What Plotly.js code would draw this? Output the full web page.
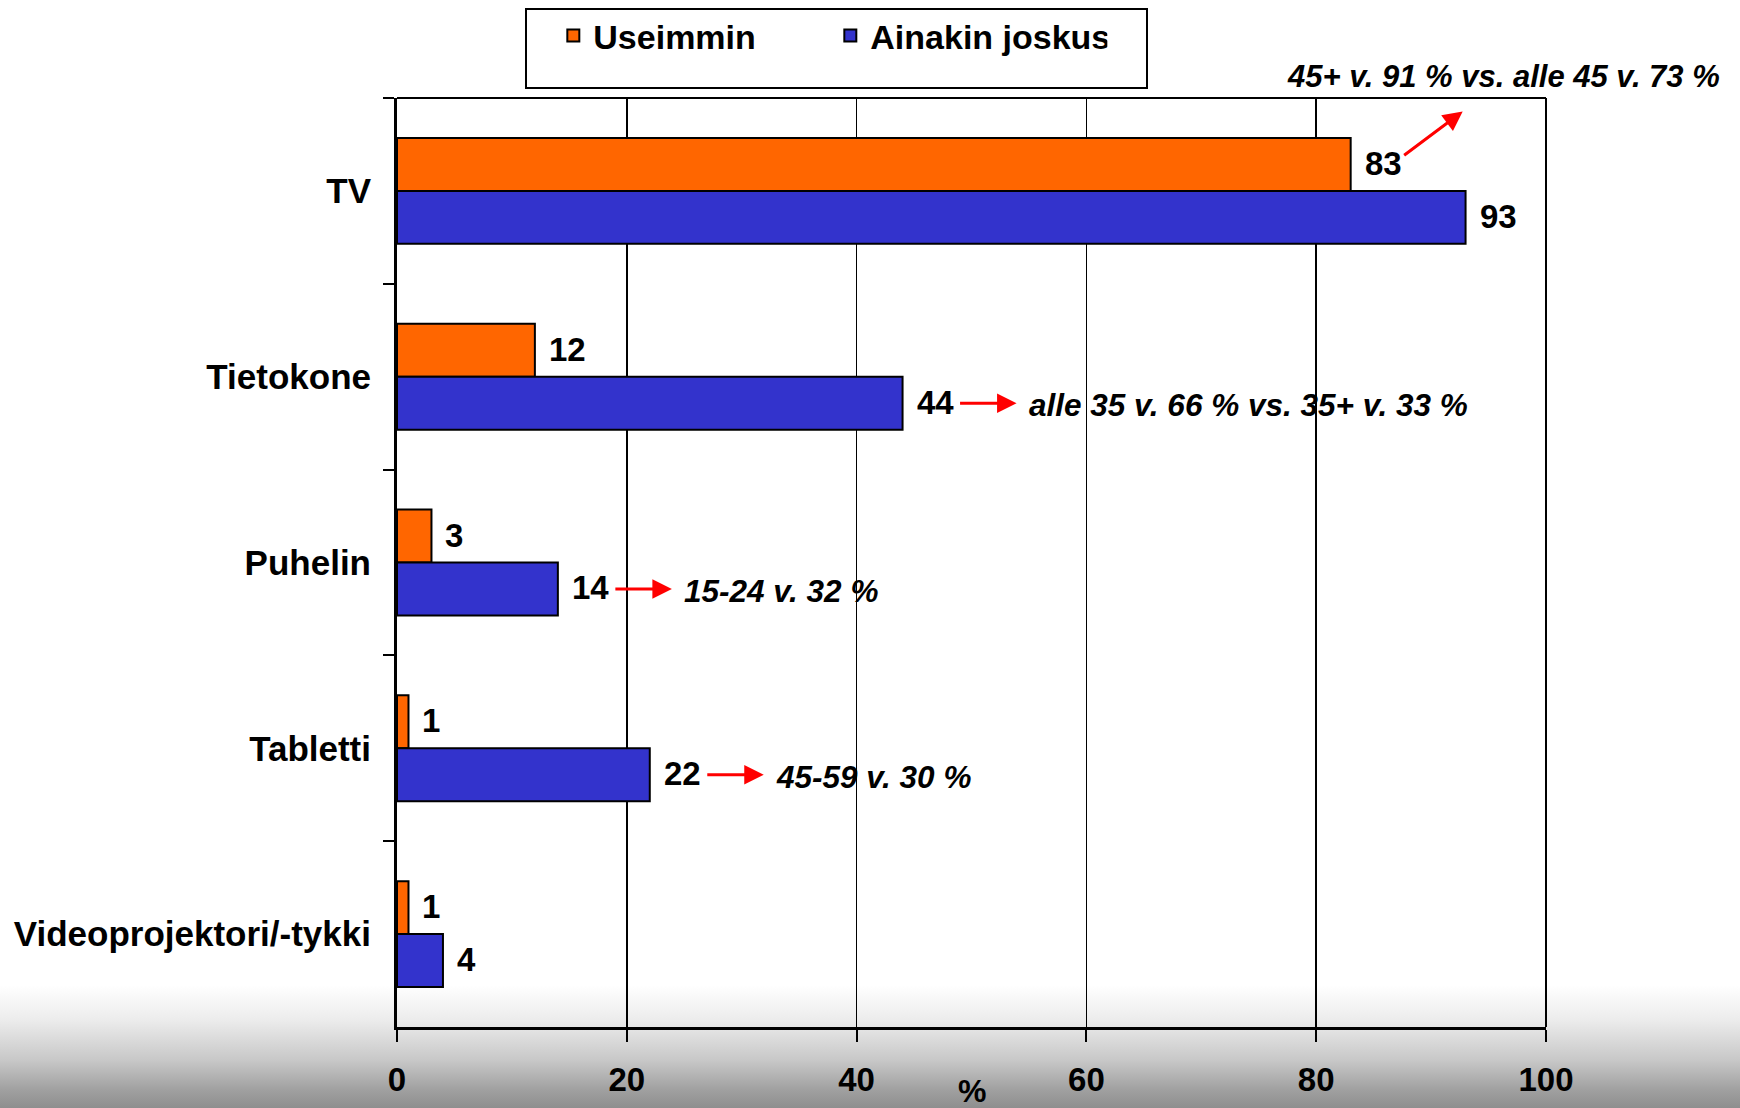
<!DOCTYPE html>
<html>
<head>
<meta charset="utf-8">
<script src="https://cdn.plot.ly/plotly-3.0.1.min.js"></script>
<style>
  html, body { margin: 0; padding: 0; }
  #chart {
    width: 1740px; height: 1108px;
    background: linear-gradient(to bottom, #ffffff 0px, #ffffff 985px, #ececec 1020px, #c8c8c8 1060px, #a0a0a0 1090px, #8e8e8e 1108px);
  }
</style>
</head>
<body>
<div id="chart"></div>
<script>
// ---- data ----
const categories = ['TV', 'Tietokone', 'Puhelin', 'Tabletti', 'Videoprojektori/-tykki'];
const seriesNames = ['Useimmin', 'Ainakin joskus'];
const useimmin = [83, 12, 3, 1, 1];
const ainakinJoskus = [93, 44, 14, 22, 4];
const xTicks = [0, 20, 40, 60, 80, 100];
const xTickLabels = ['0', '20', '40', '60', '80', '100'];
const axisTitle = '%';
// notes: category index, series index, text
const noteCategory = [0, 1, 2, 3];
const noteSeries = [0, 1, 1, 1];
const noteTexts = ['45+ v. 91 % vs. alle 45 v. 73 %', 'alle 35 v. 66 % vs. 35+ v. 33 %', '15-24 v. 32 %', '45-59 v. 30 %'];

// ---- styles ----
const colors = ['#FF6600', '#3333CC'];
const FONT = 'Liberation Sans, Arial, Helvetica, sans-serif';
const bargap = 0.43;
const half = (1 - bargap) / 4; // offset of each bar center from category center
const values = [useimmin, ainakinJoskus];

const traces = values.map((v, i) => ({
  type: 'bar',
  orientation: 'h',
  name: seriesNames[i],
  y: categories,
  x: v,
  marker: { color: colors[i], line: { color: '#000000', width: 2 } },
  hoverinfo: 'x+y'
}));

const annotations = [];
// value labels
values.forEach((v, s) => {
  v.forEach((val, c) => {
    annotations.push({
      xref: 'x', yref: 'y',
      x: val, y: c + (s === 0 ? -half : half),
      text: String(val),
      showarrow: false,
      xanchor: 'left', yanchor: 'middle',
      xshift: 12, yshift: 1,
      font: { family: FONT, size: 33, color: '#000', weight: 700 }
    });
  });
});
// notes with red arrows
noteTexts.forEach((t, k) => {
  const c = noteCategory[k], s = noteSeries[k];
  const val = values[s][c];
  const yPos = c + (s === 0 ? -half : half);
  if (k === 0) {
    annotations.push({
      xref: 'x', yref: 'y', x: val, y: yPos, xshift: 112, yshift: 53,
      text: '', showarrow: true, ax: -60, ay: 45, axref: 'pixel', ayref: 'pixel',
      arrowhead: 2, arrowsize: 1.3, arrowwidth: 3, arrowcolor: '#FF0000', standoff: 0, startstandoff: 0
    });
    annotations.push({
      xref: 'x', yref: 'y', x: 100, y: yPos, xshift: 176, yshift: 88,
      text: '<b><i>' + t + '</i></b>', showarrow: false, xanchor: 'right', yanchor: 'middle',
      font: { family: FONT, size: 31, color: '#000' }
    });
  } else {
    annotations.push({
      xref: 'x', yref: 'y', x: val, y: yPos, xshift: 114, yshift: 0,
      text: '', showarrow: true, ax: -58, ay: 0, axref: 'pixel', ayref: 'pixel',
      arrowhead: 2, arrowsize: 1.3, arrowwidth: 3, arrowcolor: '#FF0000', standoff: 0, startstandoff: 0
    });
    annotations.push({
      xref: 'x', yref: 'y', x: val, y: yPos, xshift: 124, yshift: -2,
      text: '<b><i>' + t + '</i></b>', showarrow: false, xanchor: 'left', yanchor: 'middle',
      font: { family: FONT, size: 31.5, color: '#000' }
    });
  }
});
// axis title "%"
annotations.push({
  xref: 'paper', yref: 'paper', x: 0.5, y: 0, yshift: -64,
  text: '<b>' + axisTitle + '</b>', showarrow: false, xanchor: 'center', yanchor: 'middle',
  font: { family: FONT, size: 32, color: '#000' }
});

const layout = {
  width: 1740, height: 1108,
  margin: { l: 397, r: 194, t: 98, b: 81, pad: 0 },
  paper_bgcolor: 'rgba(0,0,0,0)',
  plot_bgcolor: 'rgba(0,0,0,0)',
  barmode: 'group',
  bargap: bargap,
  bargroupgap: 0,
  font: { family: FONT, color: '#000' },
  showlegend: true,
  legend: {
    orientation: 'h',
    xref: 'container', yref: 'container',
    x: 0.318, xanchor: 'left',
    y: 1 - 36 / 1108, yanchor: 'middle',
    bgcolor: 'rgba(0,0,0,0)', borderwidth: 0,
    entrywidth: 232, entrywidthmode: 'pixels',
    font: { family: FONT, size: 34, color: '#000', weight: 700 },
    traceorder: 'normal'
  },
  xaxis: {
    range: [0, 100],
    tickmode: 'array', tickvals: xTicks, ticktext: xTickLabels,
    showgrid: true, gridcolor: '#000', gridwidth: 1.5,
    zeroline: false,
    showline: true, linecolor: '#000', linewidth: 3,
    ticks: 'outside', ticklen: 12, tickwidth: 2, tickcolor: '#000',
    ticklabelstandoff: 9,
    tickfont: { family: FONT, size: 33, color: '#000', weight: 700 },
    fixedrange: true
  },
  yaxis: {
    type: 'category',
    autorange: 'reversed',
    tickson: 'boundaries',
    ticks: 'outside', ticklen: 11, tickwidth: 2, tickcolor: '#000',
    showline: true, linecolor: '#000', linewidth: 3,
    showgrid: false, zeroline: false,
    ticklabelstandoff: 16,
    tickfont: { family: FONT, size: 35, color: '#000', weight: 700 },
    fixedrange: true
  },
  shapes: [
    // top border and right border of plot frame
    { type: 'line', xref: 'paper', yref: 'paper', x0: 0, x1: 1, y0: 1, y1: 1, line: { color: '#000', width: 2 } },
    { type: 'line', xref: 'paper', yref: 'paper', x0: 1, x1: 1, y0: 0, y1: 1, line: { color: '#000', width: 2 } },
    // legend frame
    { type: 'rect', xref: 'paper', yref: 'paper',
      x0: (526 - 397) / 1149, x1: (1147 - 397) / 1149,
      y0: 1 + (98 - 88) / 929, y1: 1 + (98 - 9) / 929,
      line: { color: '#000', width: 2 }, fillcolor: '#ffffff', layer: 'above' }
  ],
  annotations: annotations
};

Plotly.newPlot('chart', traces, layout, { displayModeBar: false, staticPlot: true });
</script>
</body>
</html>
